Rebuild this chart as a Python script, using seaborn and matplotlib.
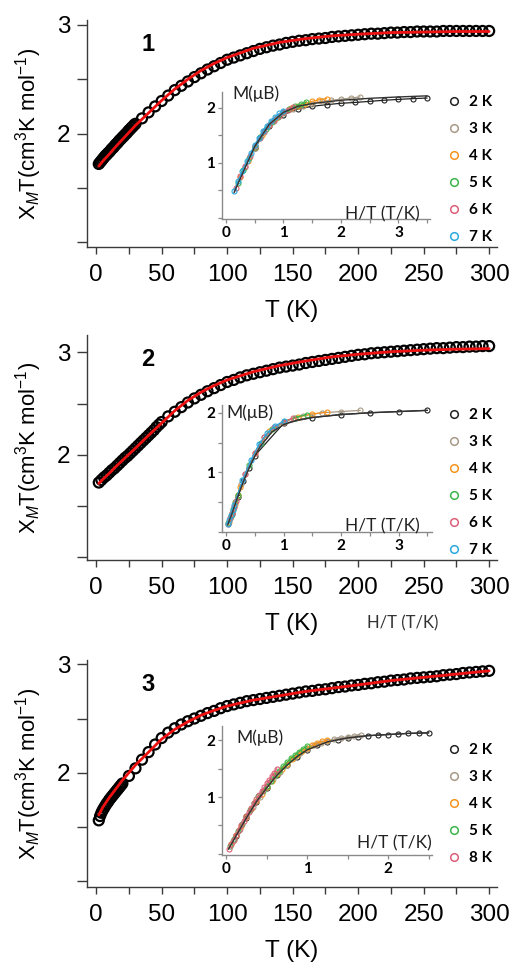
import numpy as np
import pandas as pd
import matplotlib
matplotlib.use("Agg")
import matplotlib.pyplot as plt
import seaborn as sns
from matplotlib.lines import Line2D

# ---------------- data: main chiT(T) curves ----------------
T1 = [2, 3, 4, 5, 6, 7, 8, 9, 10, 11, 12, 13, 14, 15, 16, 17, 18, 19, 20, 21, 22, 23, 24, 25, 26, 27, 28, 29, 30,
      35, 40, 45, 50, 55, 60, 65, 70, 75, 80, 85, 90, 95, 100, 105, 110, 115, 120, 125, 130, 135, 140, 145, 150,
      155, 160, 165, 170, 175, 180, 185, 190, 195, 200, 205, 210, 215, 220, 225, 230, 235, 240, 245, 250, 255,
      260, 265, 270, 275, 280, 285, 290, 295, 300]
chiT1 = [1.72, 1.735, 1.75, 1.765, 1.78, 1.795, 1.805, 1.82, 1.83, 1.845, 1.86, 1.87, 1.885, 1.90, 1.91, 1.925,
         1.94, 1.95, 1.965, 1.975, 1.99, 2.00, 2.015, 2.03, 2.04, 2.055, 2.065, 2.08, 2.09,
         2.14, 2.195, 2.25, 2.30, 2.35, 2.40, 2.44, 2.48, 2.52, 2.555, 2.59, 2.62, 2.65, 2.68, 2.70, 2.72, 2.74,
         2.76, 2.78, 2.795, 2.81, 2.82, 2.835, 2.845, 2.855, 2.86, 2.87, 2.875, 2.88, 2.89, 2.895, 2.90, 2.905,
         2.91, 2.915, 2.92, 2.92, 2.925, 2.93, 2.93, 2.935, 2.935, 2.94, 2.94, 2.94, 2.94, 2.945, 2.945, 2.945,
         2.945, 2.945, 2.945, 2.945, 2.945]

T2 = [2, 4, 6, 8, 10, 12, 14, 16, 18, 20, 22, 24, 26, 28, 30, 32, 34, 36, 38, 40, 42, 44, 46, 48, 50,
      55, 60, 65, 70, 75, 80, 85, 90, 95, 100, 105, 110, 115, 120, 125, 130, 135, 140, 145, 150, 155, 160, 165,
      170, 175, 180, 185, 190, 195, 200, 205, 210, 215, 220, 225, 230, 235, 240, 245, 250, 255, 260, 265, 270,
      275, 280, 285, 290, 295, 300]
chiT2 = [1.73, 1.755, 1.78, 1.80, 1.825, 1.85, 1.87, 1.895, 1.92, 1.945, 1.97, 1.99, 2.015, 2.04, 2.065, 2.09,
         2.115, 2.14, 2.165, 2.19, 2.215, 2.24, 2.27, 2.295, 2.32,
         2.375, 2.42, 2.465, 2.51, 2.55, 2.585, 2.62, 2.65, 2.68, 2.71, 2.73, 2.755, 2.775, 2.79, 2.805, 2.82,
         2.835, 2.85, 2.86, 2.87, 2.88, 2.895, 2.905, 2.915, 2.925, 2.935, 2.945, 2.955, 2.965, 2.975, 2.98,
         2.99, 2.995, 3.00, 3.005, 3.01, 3.015, 3.02, 3.025, 3.03, 3.035, 3.04, 3.04, 3.045, 3.05, 3.05, 3.055,
         3.055, 3.06, 3.06]

T3 = [2, 3, 4, 5, 6, 7, 8, 9, 10, 11, 12, 13, 14, 15, 16, 17, 18, 19, 20,
      25, 30, 35, 40, 45, 50, 55, 60, 65, 70, 75, 80, 85, 90, 95, 100, 105, 110, 115, 120, 125, 130, 135, 140,
      145, 150, 155, 160, 165, 170, 175, 180, 185, 190, 195, 200, 205, 210, 215, 220, 225, 230, 235, 240, 245,
      250, 255, 260, 265, 270, 275, 280, 285, 290, 295, 300]
chiT3 = [1.56, 1.60, 1.63, 1.655, 1.675, 1.695, 1.715, 1.73, 1.75, 1.765, 1.78, 1.795, 1.81, 1.825, 1.84, 1.855,
         1.87, 1.885, 1.90,
         1.97, 2.04, 2.12, 2.19, 2.26, 2.32, 2.37, 2.41, 2.445, 2.475, 2.50, 2.525, 2.55, 2.57, 2.595, 2.615,
         2.63, 2.645, 2.66, 2.67, 2.68, 2.69, 2.70, 2.71, 2.72, 2.73, 2.74, 2.75, 2.755, 2.765, 2.77, 2.78,
         2.79, 2.795, 2.805, 2.81, 2.82, 2.825, 2.835, 2.84, 2.85, 2.855, 2.86, 2.87, 2.875, 2.88, 2.885, 2.89,
         2.90, 2.905, 2.91, 2.92, 2.925, 2.93, 2.935, 2.94]

T_fit = [2, 5, 10, 15, 20, 25, 30, 40, 50, 60, 70, 80, 90, 100, 120, 140, 160, 180, 200, 225, 250, 275, 300]
fit1 = [1.70, 1.745, 1.81, 1.88, 1.945, 2.01, 2.075, 2.19, 2.305, 2.41, 2.50, 2.58, 2.645, 2.70, 2.785, 2.84,
        2.875, 2.90, 2.915, 2.93, 2.935, 2.94, 2.94]
fit2 = [1.72, 1.76, 1.82, 1.885, 1.945, 2.005, 2.065, 2.19, 2.31, 2.43, 2.53, 2.61, 2.675, 2.73, 2.81, 2.87,
        2.915, 2.955, 2.98, 3.005, 3.02, 3.03, 3.035]
fit3 = [1.61, 1.68, 1.77, 1.85, 1.93, 2.00, 2.07, 2.19, 2.31, 2.40, 2.47, 2.53, 2.575, 2.615, 2.67, 2.71,
        2.75, 2.78, 2.81, 2.85, 2.88, 2.91, 2.94]

# ---------------- data: inset M vs H/T ----------------
# panel 1
H_in1 = [1.0, 1.5, 2.0, 2.5, 3.0, 3.5, 4.0, 4.5, 5.0, 5.5, 6.0, 6.5, 7.0]
temps_in1 = [2, 3, 4, 5, 6, 7]
M1_2K = [1.27, 1.67, 1.88, 1.98, 2.03, 2.06, 2.085, 2.10, 2.12, 2.14, 2.155, 2.17, 2.18]
M1_3K = [0.93, 1.28, 1.57, 1.77, 1.90, 1.98, 2.04, 2.08, 2.12, 2.14, 2.16, 2.18, 2.20]
M1_4K = [0.74, 1.03, 1.29, 1.51, 1.69, 1.82, 1.92, 1.99, 2.04, 2.08, 2.12, 2.15, 2.17]
M1_5K = [0.63, 0.87, 1.09, 1.29, 1.47, 1.62, 1.74, 1.84, 1.92, 1.98, 2.03, 2.07, 2.11]
M1_6K = [0.55, 0.76, 0.95, 1.13, 1.30, 1.45, 1.58, 1.69, 1.78, 1.86, 1.92, 1.97, 2.02]
M1_7K = [0.49, 0.68, 0.86, 1.03, 1.18, 1.33, 1.46, 1.58, 1.68, 1.77, 1.84, 1.90, 1.95]
fit_in1_x = [0.14, 0.25, 0.5, 0.75, 1.0, 1.25, 1.5, 2.0, 2.5, 3.0, 3.5]
fit_in1_M = [0.46, 0.72, 1.30, 1.70, 1.92, 2.03, 2.08, 2.14, 2.175, 2.20, 2.22]

# panel 2
H_in2 = [0.2, 0.4, 0.6, 0.8, 1.0, 2.0, 3.0, 4.0, 5.0, 6.0, 7.0]
temps_in2 = [2, 3, 4, 5, 6, 7]
M2_2K = [0.30, 0.58, 0.85, 1.08, 1.28, 1.82, 1.92, 1.97, 2.00, 2.02, 2.04]
M2_3K = [0.23, 0.42, 0.61, 0.80, 0.97, 1.59, 1.85, 1.95, 2.00, 2.02, 2.04]
M2_4K = [0.17, 0.32, 0.47, 0.62, 0.76, 1.33, 1.69, 1.85, 1.93, 1.98, 2.01]
M2_5K = [0.15, 0.27, 0.38, 0.50, 0.62, 1.13, 1.50, 1.73, 1.85, 1.92, 1.97]
M2_6K = [0.14, 0.23, 0.32, 0.42, 0.52, 0.98, 1.33, 1.59, 1.76, 1.85, 1.91]
M2_7K = [0.13, 0.20, 0.28, 0.37, 0.46, 0.87, 1.20, 1.47, 1.66, 1.78, 1.86]
fit_in2_x = [0.03, 0.1, 0.2, 0.3, 0.4, 0.5, 0.6, 0.8, 1.0, 1.25, 1.5, 2.0, 2.5, 3.0, 3.5]
fit_in2_M = [0.12, 0.30, 0.58, 0.84, 1.07, 1.27, 1.44, 1.68, 1.80, 1.88, 1.92, 1.97, 2.00, 2.02, 2.04]

# panel 3
H_in3 = [0.25, 0.5, 0.75, 1.0, 1.25, 1.5, 1.75, 2.0, 2.25, 2.5, 2.75, 3.0, 3.25, 3.5, 3.75, 4.0, 4.25, 4.5,
         4.75, 5.0]
temps_in3 = [2, 3, 4, 5, 8]
M3_2K = [0.32, 0.63, 0.92, 1.16, 1.38, 1.56, 1.71, 1.83, 1.91, 1.97, 2.01, 2.04, 2.06, 2.08, 2.09, 2.10, 2.11,
         2.12, 2.125, 2.13]
M3_3K = [0.22, 0.43, 0.64, 0.83, 1.00, 1.17, 1.31, 1.44, 1.57, 1.68, 1.77, 1.85, 1.91, 1.95, 1.99, 2.02, 2.04,
         2.06, 2.075, 2.085]
M3_4K = [0.17, 0.33, 0.49, 0.65, 0.79, 0.93, 1.06, 1.18, 1.29, 1.40, 1.50, 1.59, 1.67, 1.74, 1.81, 1.86, 1.91,
         1.95, 1.98, 2.00]
M3_5K = [0.14, 0.27, 0.40, 0.53, 0.66, 0.78, 0.90, 1.01, 1.11, 1.20, 1.29, 1.38, 1.46, 1.54, 1.61, 1.68, 1.74,
         1.80, 1.85, 1.90]
M3_8K = [0.09, 0.17, 0.25, 0.34, 0.42, 0.50, 0.58, 0.66, 0.74, 0.81, 0.89, 0.96, 1.03, 1.10, 1.17, 1.24, 1.30,
         1.37, 1.43, 1.50]
fit_in3_x = [0.03, 0.125, 0.25, 0.375, 0.5, 0.625, 0.75, 0.875, 1.0, 1.25, 1.5, 1.75, 2.0, 2.25, 2.5]
fit_in3_M = [0.08, 0.32, 0.63, 0.92, 1.16, 1.38, 1.56, 1.71, 1.83, 1.97, 2.04, 2.08, 2.10, 2.12, 2.13]

temp_colors = {2: "#222222", 3: "#a89a86", 4: "#f7941d", 5: "#3cb54a", 6: "#dc5f78", 7: "#2aa9df", 8: "#dc5f78"}

# ---------------- style ----------------
sns.set_theme(style="white")
plt.rcParams["font.family"] = ["Liberation Sans", "DejaVu Sans"]
plt.rcParams["mathtext.fontset"] = "custom"
plt.rcParams["mathtext.rm"] = "Liberation Sans"
plt.rcParams["mathtext.it"] = "Liberation Sans:italic"
plt.rcParams["mathtext.bf"] = "Liberation Sans:bold"
for key in ["text.color", "axes.labelcolor", "xtick.labelcolor", "ytick.labelcolor"]:
    plt.rcParams[key] = "black"
INSET_FONT = ["Lato", "DejaVu Sans"]

W, H = 513, 964
fig = plt.figure(figsize=(W / 100, H / 100), dpi=100)
fig.patch.set_facecolor("white")


def add_ax(left, right, top, bottom):
    return fig.add_axes([left / W, 1 - bottom / H, (right - left) / W, (bottom - top) / H])


SPINE = "#3a3a3a"


def main_panel(ax, T, chi, Tf, fit, ylim, number):
    df = pd.DataFrame({"T": T, "chiT": chi})
    sns.scatterplot(data=df, x="T", y="chiT", ax=ax, marker="o", s=52, facecolors="none",
                    edgecolor="black", linewidth=1.6, zorder=2)
    dff = pd.DataFrame({"T": Tf, "fit": fit})
    sns.lineplot(data=dff, x="T", y="fit", ax=ax, color="#ee1111", lw=2.0, zorder=3,
                 sort=False, estimator=None)
    ax.set_xlim(-7, 306)
    ax.set_ylim(*ylim)
    ax.set_facecolor("none")
    for s in ["top", "right"]:
        ax.spines[s].set_visible(False)
    for s in ["left", "bottom"]:
        ax.spines[s].set_color(SPINE)
        ax.spines[s].set_linewidth(1.0)
    xt = [0, 25, 50, 75, 100, 125, 150, 175, 200, 225, 250, 275, 300]
    ax.set_xticks(xt)
    ax.set_xticklabels([str(v) if v % 50 == 0 else "" for v in xt])
    yt = [1, 1.5, 2, 2.5, 3]
    ax.set_yticks(yt)
    ax.set_yticklabels(["", "", "2", "", "3"])
    ax.tick_params(axis="x", direction="out", length=5, width=1, color=SPINE, labelsize=17.5, pad=7,
                   bottom=True)
    ax.tick_params(axis="y", direction="out", length=7, width=1, color=SPINE, labelsize=17.5, pad=5,
                   left=True)
    ax.set_xlabel("T (K)", fontsize=17.5, labelpad=10)
    ax.set_ylabel(r"X$_{M}$T(cm$^{3}$K mol$^{-1}$)", fontsize=16, labelpad=9)
    ax.text(0.149, 0.89, number, transform=ax.transAxes, fontsize=17, fontweight="bold",
            ha="center", va="center")


def inset_panel(ax, H_list, temps, Ms, fx, fM, xlim, ylim, xticks_major, mlabel_pos, hlabel_pos):
    for T, M in zip(temps, Ms):
        c = temp_colors[T]
        df = pd.DataFrame({"x": np.array(H_list) / T, "M": M})
        sns.lineplot(data=df, x="x", y="M", ax=ax, color=c, lw=0.9, marker="o", markersize=3.6,
                     markerfacecolor="none", markeredgecolor=c, markeredgewidth=0.8,
                     sort=False, estimator=None, zorder=3)
    dff = pd.DataFrame({"x": fx, "M": fM})
    sns.lineplot(data=dff, x="x", y="M", ax=ax, color="#333333", lw=1.0, sort=False, estimator=None, zorder=4)
    ax.set_xlim(*xlim)
    ax.set_ylim(*ylim)
    ax.set_facecolor("none")
    for s in ["top", "right"]:
        ax.spines[s].set_visible(False)
    for s in ["left", "bottom"]:
        ax.spines[s].set_color("#8a8a8a")
        ax.spines[s].set_linewidth(1.0)
    xt = []
    for m in xticks_major:
        xt += [m, m + 0.5]
    xt = [t for t in xt if t <= xlim[1]]
    ax.set_xticks(xt)
    ax.set_xticklabels([str(int(t)) if float(t).is_integer() else "" for t in xt])
    yt = [0, 0.5, 1, 1.5, 2]
    ax.set_yticks(yt)
    ax.set_yticklabels(["", "", "1", "", "2"])
    ax.tick_params(axis="both", direction="out", length=3, width=0.9, color="#8a8a8a", labelsize=11, pad=2,
                   bottom=True, left=True)
    for lab in ax.get_xticklabels() + ax.get_yticklabels():
        lab.set_fontweight("bold")
        lab.set_family(INSET_FONT)
    ax.set_xlabel("")
    ax.set_ylabel("")
    ax.text(mlabel_pos[0], mlabel_pos[1], "M(μB)", transform=ax.transAxes, fontsize=12.5, family=INSET_FONT,
            color="#222222", ha="left", va="center")
    ax.text(hlabel_pos[0], hlabel_pos[1], "H/T (T/K)", transform=ax.transAxes, fontsize=12.5,
            family=INSET_FONT, color="#222222", ha="right", va="bottom")


def legend_for(ax, temps, x_px, top_px):
    handles = [Line2D([], [], ls="none", marker="o", markersize=5.5, markerfacecolor="none",
                      markeredgecolor=temp_colors[t], markeredgewidth=1.1) for t in temps]
    labels = [f"{t} K" for t in temps]
    leg = ax.legend(handles, labels, loc="upper left", bbox_to_anchor=(x_px / W, 1 - top_px / H),
                    bbox_transform=fig.transFigure, frameon=False, handlelength=0.9, handletextpad=0.55,
                    labelspacing=0.85, borderaxespad=0, borderpad=0,
                    prop={"family": INSET_FONT, "weight": "bold", "size": 11})
    return leg


# ---------------- panels ----------------
ax1 = add_ax(87, 497, 20, 247)
main_panel(ax1, T1, chiT1, T_fit, fit1, (0.955, 3.046), "1")
in1 = add_ax(222, 430, 92, 219)
inset_panel(in1, H_in1, temps_in1, [M1_2K, M1_3K, M1_4K, M1_5K, M1_6K, M1_7K], fit_in1_x, fit_in1_M,
            (-0.07, 3.55), (-0.02, 2.29), [0, 1, 2, 3], (0.05, 0.99), (0.95, -0.03))
legend_for(ax1, temps_in1, 447, 95)

ax2 = add_ax(87, 497, 335, 560)
main_panel(ax2, T2, chiT2, T_fit, fit2, (0.975, 3.168), "2")
in2 = add_ax(222, 432, 405, 532)
inset_panel(in2, H_in2, temps_in2, [M2_2K, M2_3K, M2_4K, M2_5K, M2_6K, M2_7K], fit_in2_x, fit_in2_M,
            (-0.07, 3.58), (0.11, 2.13), [0, 1, 2, 3], (0.02, 0.94), (0.94, -0.02))
legend_for(ax2, temps_in2, 447, 408)
fig.text(403 / W, 1 - 623 / H, "H/T (T/K)", fontsize=12, family=INSET_FONT, color="#333333",
         ha="center", va="center")

ax3 = add_ax(87, 497, 660, 887)
main_panel(ax3, T3, chiT3, T_fit, fit3, (0.945, 3.04), "3")
in3 = add_ax(222, 432, 726, 855)
inset_panel(in3, H_in3, temps_in3, [M3_2K, M3_3K, M3_4K, M3_5K, M3_8K], fit_in3_x, fit_in3_M,
            (-0.05, 2.54), (-0.02, 2.25), [0, 1, 2], (0.07, 0.91), (1.0, 0.03))
legend_for(ax3, temps_in3, 447, 743)

fig.savefig("out.png", dpi=100, facecolor="white")
